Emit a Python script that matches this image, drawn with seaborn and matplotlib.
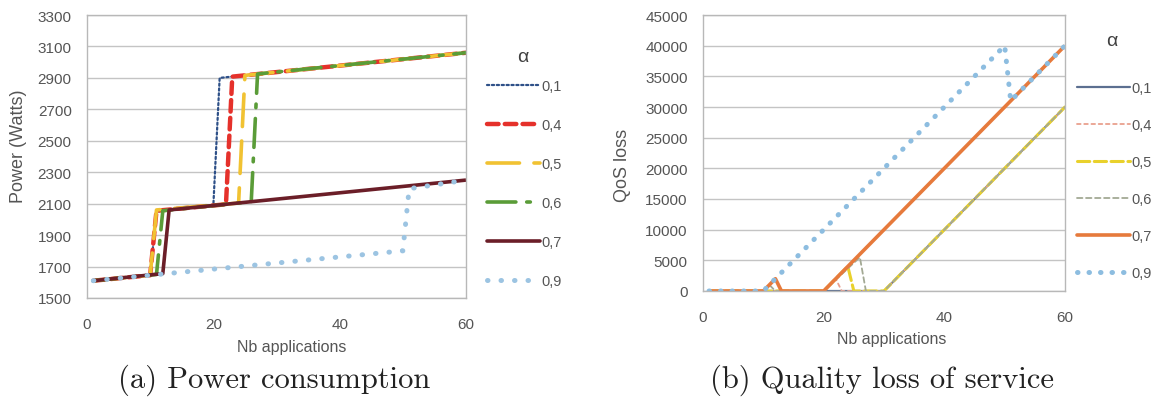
import numpy as np
import pandas as pd
import matplotlib
matplotlib.use("Agg")
import matplotlib.pyplot as plt
import seaborn as sns
from matplotlib.lines import Line2D

# ---------------- data ----------------
alphas = ["0,1", "0,4", "0,5", "0,6", "0,7", "0,9"]

# (a) Power consumption (Watts) vs number of applications
pow_x_01 = [1, 10, 11, 20, 21, 60]
pow_y_01 = [1610, 1645, 2050, 2088, 2900, 3060]
pow_x_04 = [1, 10, 11, 22, 23, 60]
pow_y_04 = [1610, 1645, 2055, 2096, 2908, 3060]
pow_x_05 = [1, 10, 11, 24, 25, 60]
pow_y_05 = [1610, 1645, 2060, 2104, 2916, 3060]
pow_x_06 = [1, 11, 12, 26, 27, 60]
pow_y_06 = [1610, 1650, 2055, 2112, 2925, 3060]
pow_x_07 = [1, 12, 13, 60]
pow_y_07 = [1610, 1655, 2060, 2250]
pow_x_09 = [1, 50, 51, 60]
pow_y_09 = [1610, 1800, 2195, 2250]

# (b) QoS loss vs number of applications
qos_x_01 = [1, 30, 60]
qos_y_01 = [0, 0, 30000]
qos_x_04 = [1, 20, 22, 23, 30, 60]
qos_y_04 = [0, 0, 2000, 0, 0, 30000]
qos_x_05 = [1, 20, 24, 25, 30, 60]
qos_y_05 = [0, 0, 4000, 0, 0, 30000]
qos_x_06 = [1, 10, 11, 12, 20, 26, 27, 30, 60]
qos_y_06 = [0, 0, 1000, 0, 0, 5500, 0, 0, 30000]
qos_x_07 = [1, 10, 12, 13, 20, 60]
qos_y_07 = [0, 0, 2000, 0, 0, 40000]
qos_x_09 = [1, 10, 50, 51, 60]
qos_y_09 = [0, 0, 40000, 31000, 40000]

power_xs = [pow_x_01, pow_x_04, pow_x_05, pow_x_06, pow_x_07, pow_x_09]
power_ys = [pow_y_01, pow_y_04, pow_y_05, pow_y_06, pow_y_07, pow_y_09]
qos_xs = [qos_x_01, qos_x_04, qos_x_05, qos_x_06, qos_x_07, qos_x_09]
qos_ys = [qos_y_01, qos_y_04, qos_y_05, qos_y_06, qos_y_07, qos_y_09]

power_ticks = list(range(1500, 3301, 200))
qos_ticks = list(range(0, 45001, 5000))
x_ticks = [0, 20, 40, 60]

# ---------------- styles ----------------
power_styles = [
    dict(color="#2e5088", lw=1.6, ls=(0, (1, 1.2))),
    dict(color="#e5312b", lw=3.2, ls=(0, (2.6, 1.4))),
    dict(color="#f1c232", lw=2.6, ls=(0, (9, 4))),
    dict(color="#5a9c38", lw=2.6, ls=(0, (8, 3, 1, 3))),
    dict(color="#6b1e28", lw=2.6, ls="-"),
    dict(color="#9cc4e2", lw=3.6, ls=(0, (0.1, 2.6))),
]
qos_styles = [
    dict(color="#5c6f90", lw=1.6, ls="-"),
    dict(color="#e9a08e", lw=1.3, ls=(0, (2, 2))),
    dict(color="#e9d12c", lw=2.2, ls=(0, (4, 1.5))),
    dict(color="#a3a994", lw=1.3, ls=(0, (3, 2))),
    dict(color="#e67a3c", lw=2.6, ls="-"),
    dict(color="#8dbde0", lw=3.6, ls=(0, (0.1, 2.2))),
]

sns.set_theme(style="white")
plt.rcParams["font.family"] = ["Liberation Sans", "DejaVu Sans"]

W, H = 1159, 406
fig = plt.figure(figsize=(W / 100, H / 100), dpi=100)
fig.patch.set_facecolor("white")

def px_axes(x0, x1, ytop, ybot):
    return fig.add_axes([x0 / W, (H - ybot) / H, (x1 - x0) / W, (ybot - ytop) / H])

ax1 = px_axes(87, 466, 16, 299)
ax2 = px_axes(703, 1065, 16, 292)

def draw(ax, xs, ys, styles):
    for xv, yv, st, lab in zip(xs, ys, styles, alphas):
        df = pd.DataFrame({"x": xv, "y": yv})
        sns.lineplot(data=df, x="x", y="y", ax=ax, estimator=None, sort=False,
                     color=st["color"], linewidth=st["lw"], linestyle=st["ls"],
                     legend=False)
    for line in ax.get_lines():
        line.set_dash_capstyle("round")
        line.set_solid_capstyle("butt")

draw(ax1, power_xs, power_ys, power_styles)
draw(ax2, qos_xs, qos_ys, qos_styles)

tick_col = "#555555"
for ax, yt, ylab in [(ax1, power_ticks, "Power (Watts)"), (ax2, qos_ticks, "QoS loss")]:
    ax.set_xlim(0, 60)
    ax.set_ylim(yt[0], yt[-1])
    ax.set_xticks(x_ticks)
    ax.set_yticks(yt)
    ax.yaxis.grid(True, color="#c4c4c4", lw=1.0)
    ax.xaxis.grid(False)
    ax.set_axisbelow(True)
    for s in ax.spines.values():
        s.set_color("#b8b8b8")
        s.set_linewidth(1.0)
    ax.tick_params(axis="both", which="major", direction="out", length=4, width=0.8,
                   color="#b8b8b8", labelcolor=tick_col, labelsize=11)
    ax.tick_params(axis="x", pad=10)
    ax.tick_params(axis="y", pad=7)
    ax.set_ylabel(ylab, fontsize=13, color="#555555")
    ax.set_xlabel("Nb applications", fontsize=11.5, color="#555555")

ax1.yaxis.set_label_coords(-0.158, 0.54)
ax2.yaxis.set_label_coords(-0.20, 0.46)
ax1.xaxis.set_label_coords(0.54, -0.145)
ax2.xaxis.set_label_coords(0.52, -0.145)

# legends
def add_legend(ax, styles, x0, y_first, spacing, alpha_xy):
    handles = [Line2D([0], [0], color=st["color"], lw=st["lw"], ls=st["ls"],
                      dash_capstyle="round") for st in styles]
    leg = ax.legend(handles, alphas, loc="upper left",
                    bbox_to_anchor=(x0 / W, (H - y_first + 10) / H),
                    bbox_transform=fig.transFigure, frameon=False,
                    handlelength=3.6, handletextpad=0.15, borderpad=0,
                    borderaxespad=0, labelspacing=spacing, fontsize=10.5)
    for t in leg.get_texts():
        t.set_color("#555555")
    fig.text(alpha_xy[0] / W, (H - alpha_xy[1]) / H, "α", fontsize=14,
             color="#404040", ha="center", va="center")

add_legend(ax1, power_styles, 487, 90, 1.72, (523, 57))
add_legend(ax2, qos_styles, 1077, 92, 1.58, (1112, 42))

# captions
fig.text(274 / W, (H - 380) / H, "(a) Power consumption", fontsize=22,
         family="cmr10", ha="center", va="center", color="#222222")
fig.text(882 / W, (H - 380) / H, "(b) Quality loss of service", fontsize=22,
         family="cmr10", ha="center", va="center", color="#222222")

fig.savefig("out.png", dpi=100, facecolor="white")
